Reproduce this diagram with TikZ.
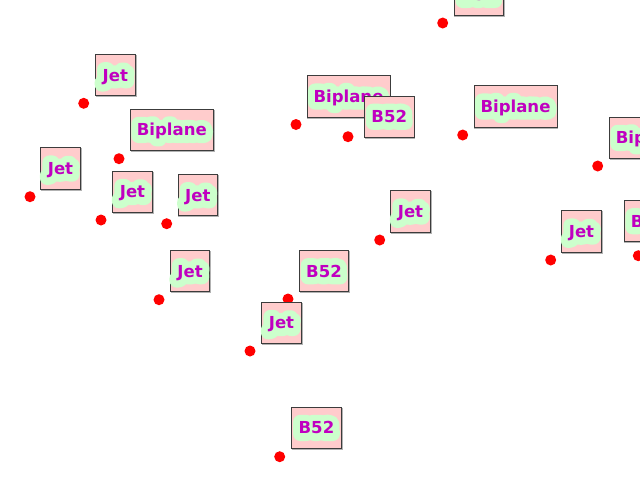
\documentclass[tikz,border=0pt]{standalone}
\usepackage{fontspec}
\setmainfont{DejaVu Sans}[BoldFont={DejaVu Sans Bold}]
\newfontfamily\glowfont{DejaVu Sans Bold}[FakeBold=85]
\usetikzlibrary{calc}
\definecolor{pinkfill}{RGB}{255,204,204}
\definecolor{glowgreen}{RGB}{204,255,204}
\definecolor{labelmag}{RGB}{192,0,192}
\definecolor{boxedge}{RGB}{60,60,60}
\tikzset{
  dotmark/.style={circle, fill=red, draw=none, inner sep=0pt, minimum size=8.25pt},
  planebox/.style={rectangle, fill=pinkfill, draw=boxedge, line width=0.75pt, inner sep=0pt, minimum height=31.1pt},
  shadowbox/.style={rectangle, draw=black!30, line width=0.75pt, inner sep=0pt, minimum height=31.1pt},
  labeltext/.style={inner sep=0pt, anchor=base, text=labelmag, font=\fontsize{12.4pt}{14pt}\selectfont\bfseries},
  glowtext/.style={inner sep=0pt, anchor=base, text=glowgreen, line join=round, line cap=round, font=\fontsize{12.4pt}{14pt}\selectfont\glowfont}
}
\newcommand\planelabel[5]{%
  \node[shadowbox, minimum width=#4*0.75pt] (s#1) at (#2+0.9,#3+0.9) {};
  \node[planebox, minimum width=#4*0.75pt] (b#1) at (#2,#3) {};
  \node[glowtext] (g#1) at ($(b#1.center)+(0,6)$) {#5};
  \node[labeltext] (t#1) at ($(b#1.center)+(0,6)$) {#5};
}
\begin{document}
\begin{tikzpicture}[x=0.75pt,y=-0.75pt]
\useasboundingbox (0,0) rectangle (640,480);
\clip (0,0) rectangle (640,480);
% data points
\foreach \n/\px/\py in {1/83.7/103.3, 2/119/158.7, 3/30/196.7, 4/101/220, 5/166.7/223.7,
  6/159/299.7, 7/288/299, 8/250/351, 9/379.7/240, 10/279.7/456.7, 11/442.7/23,
  12/296/124.5, 13/348/136.7, 14/462.7/135, 15/597.7/166, 16/550.7/260, 17/638.3/255.7}
  {\node[dotmark] (p\n) at (\px,\py) {};}
% annotation boxes
\planelabel{1}{115.3}{75.25}{39.6}{Jet}
\planelabel{2}{171.8}{129.95}{83}{Biplane}
\planelabel{3}{60.5}{168.55}{39.6}{Jet}
\planelabel{4}{132.5}{191.95}{39.6}{Jet}
\planelabel{5}{197.8}{195.25}{39.6}{Jet}
\planelabel{6}{190.1}{271.25}{39.6}{Jet}
\planelabel{7}{324.05}{271.25}{49.5}{B52}
\planelabel{8}{281.5}{322.95}{39.6}{Jet}
\planelabel{9}{410.5}{211.55}{39.6}{Jet}
\planelabel{10}{316.45}{427.95}{49.5}{B52}
\planelabel{11}{478.75}{-5.05}{49.5}{B52}
\planelabel{12}{348.5}{96.55}{83}{Biplane}
\planelabel{13}{389.25}{116.75}{49.5}{B52}
\planelabel{14}{515.5}{106.55}{83}{Biplane}
\planelabel{15}{650.8}{137.95}{83}{Biplane}
\planelabel{16}{581.5}{231.55}{39.6}{Jet}
\planelabel{17}{648.75}{221.25}{49.5}{B52}
\end{tikzpicture}
\end{document}
